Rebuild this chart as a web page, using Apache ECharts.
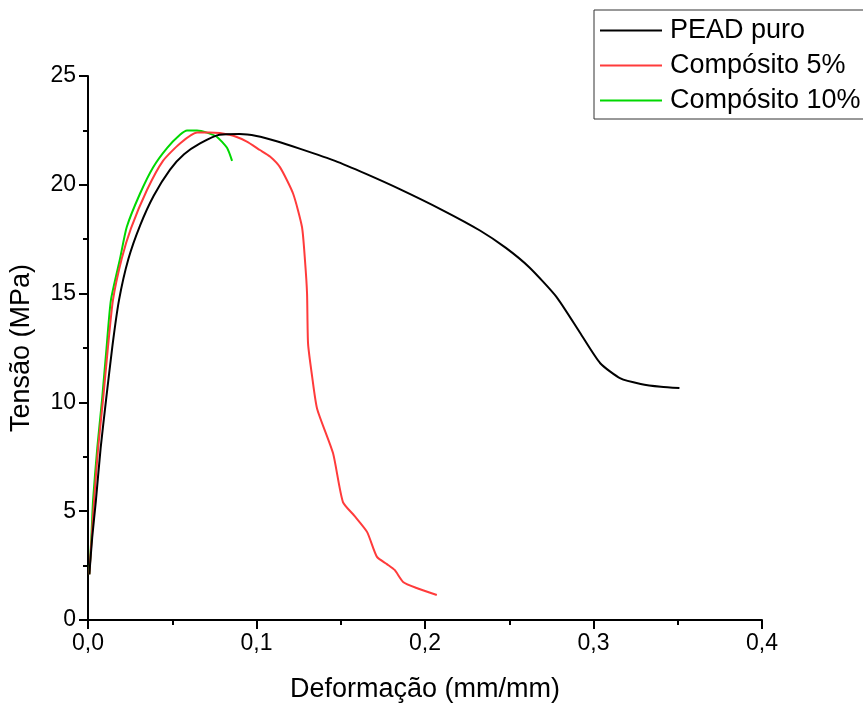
<!DOCTYPE html>
<html>
<head>
<meta charset="utf-8">
<script src="https://cdn.jsdelivr.net/npm/echarts@6/dist/echarts.min.js"></script>
<style>
  html, body { margin: 0; padding: 0; background: #fff; }
  #chart { width: 863px; height: 704px; }
</style>
</head>
<body>
<div id="chart"></div>
<script>
  // curvas tensão x deformação
  var seriesNames = ['PEAD puro', 'Compósito 5%', 'Compósito 10%'];
  var seriesColors = ['#000000', '#ff3b3b', '#00d800'];

  var peadPuro = [
    [0.0008, 2.1], [0.0025, 3.8], [0.0047, 5.5], [0.0075, 7.9], [0.0107, 10.1],
    [0.0145, 12.6], [0.0184, 14.7], [0.024, 16.6], [0.031, 18.15], [0.039, 19.5],
    [0.0487, 20.7], [0.057, 21.4], [0.0665, 21.9], [0.078, 22.3], [0.09, 22.33],
    [0.1, 22.24], [0.112, 22.0], [0.126, 21.65], [0.1466, 21.1], [0.165, 20.5],
    [0.185, 19.8], [0.21, 18.85], [0.2326, 17.9], [0.248, 17.1], [0.262, 16.2],
    [0.278, 14.85], [0.292, 13.2], [0.304, 11.8], [0.316, 11.1], [0.328, 10.85],
    [0.34, 10.72], [0.351, 10.66]
  ];

  var composito5 = [
    [0.0008, 2.1], [0.0022, 3.8], [0.0036, 5.5], [0.006, 7.9], [0.0089, 10.1],
    [0.0118, 12.5], [0.0148, 14.7], [0.02, 16.6], [0.0255, 18.0], [0.035, 19.76],
    [0.0445, 21.1], [0.0546, 21.9], [0.0647, 22.4], [0.072, 22.4], [0.084, 22.3],
    [0.094, 22.0], [0.102, 21.6], [0.108, 21.3], [0.114, 20.8], [0.1217, 19.6],
    [0.127, 18.06], [0.1288, 16.5], [0.13, 15.0], [0.1306, 12.7], [0.133, 11.2],
    [0.136, 9.7], [0.1454, 7.67], [0.1513, 5.42], [0.158, 4.8], [0.1656, 4.05],
    [0.1715, 2.9], [0.1774, 2.57], [0.182, 2.3], [0.187, 1.75], [0.195, 1.47],
    [0.207, 1.15]
  ];

  var composito10 = [
    [0.0008, 2.1], [0.002, 3.8], [0.003, 5.5], [0.0055, 7.9], [0.0083, 10.1],
    [0.011, 12.5], [0.0136, 14.7], [0.019, 16.6], [0.023, 18.06], [0.0309, 19.6],
    [0.0386, 20.8], [0.047, 21.7], [0.0546, 22.3], [0.0588, 22.5], [0.0647, 22.5],
    [0.0706, 22.4], [0.0766, 22.2], [0.0825, 21.7], [0.0855, 21.1]
  ];

  var seriesData = [peadPuro, composito5, composito10];

  var fontFamily = '"Liberation Sans", Arial, sans-serif';
  var myChart = echarts.init(document.getElementById('chart'));

  var option = {
    animation: false,
    backgroundColor: '#fff',
    textStyle: { fontFamily: fontFamily },
    grid: { left: 88, right: 101, top: 76, bottom: 84, outerBoundsMode: 'none', containLabel: false },
    legend: {
      orient: 'vertical',
      left: 594,
      top: 10,
      padding: [7, 40, 5, 6],
      borderColor: '#333',
      borderWidth: 1,
      icon: 'rect',
      itemWidth: 62,
      itemHeight: 2,
      itemGap: 8,
      textStyle: {
        fontFamily: fontFamily,
        fontSize: 27,
        lineHeight: 27,
        color: '#000',
        padding: [0, 0, 0, 3]
      },
      data: seriesNames
    },
    xAxis: {
      type: 'value',
      min: 0,
      max: 0.4,
      interval: 0.1,
      name: 'Deformação (mm/mm)',
      nameLocation: 'middle',
      nameGap: 56,
      nameTextStyle: { fontFamily: fontFamily, fontSize: 27, color: '#000' },
      axisLine: { show: true, onZero: false, lineStyle: { color: '#000', width: 2 } },
      axisTick: { show: true, inside: false, length: 9, lineStyle: { color: '#000', width: 2 } },
      minorTick: { show: true, splitNumber: 2, length: 5, lineStyle: { color: '#000', width: 2 } },
      splitLine: { show: false },
      axisLabel: {
        fontSize: 23,
        color: '#000',
        margin: 12,
        formatter: function (v) { return v.toFixed(1).replace('.', ','); }
      }
    },
    yAxis: {
      type: 'value',
      min: 0,
      max: 25,
      interval: 5,
      name: 'Tensão (MPa)',
      nameLocation: 'middle',
      nameGap: 53,
      nameTextStyle: { fontFamily: fontFamily, fontSize: 27, color: '#000' },
      axisLine: { show: true, onZero: false, lineStyle: { color: '#000', width: 2 } },
      axisTick: { show: true, inside: false, length: 9, lineStyle: { color: '#000', width: 2 } },
      minorTick: { show: true, splitNumber: 2, length: 5, lineStyle: { color: '#000', width: 2 } },
      splitLine: { show: false },
      axisLabel: { fontSize: 23, color: '#000', margin: 12 }
    },
    series: seriesNames.map(function (name, i) {
      return {
        name: name,
        type: 'line',
        data: seriesData[i],
        showSymbol: false,
        symbol: 'none',
        smooth: 0.2,
        color: seriesColors[i],
        lineStyle: { color: seriesColors[i], width: 2 },
        z: 3 - i
      };
    })
  };

  myChart.setOption(option);
</script>
</body>
</html>
